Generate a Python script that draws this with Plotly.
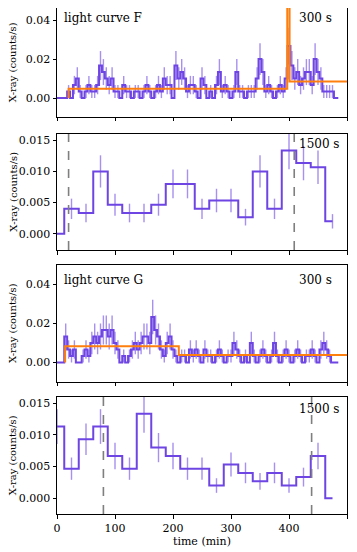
import numpy as np
import plotly.graph_objects as go
from plotly.subplots import make_subplots

# bin centres (min)
t_300 = np.arange(0, 490, 5)
t_1500 = np.arange(0, 500, 25)

# photon counts per bin
counts_F_300 = [0, 0, 0, 0, 1, 0, 2, 3, 1, 0, 1, 2, 1, 1, 2, 5, 4, 3, 2, 3,
                1, 1, 0, 2, 1, 1, 0, 1, 1, 0, 1, 2, 1, 0, 1, 2, 1, 3, 2, 2,
                0, 5, 3, 4, 3, 1, 2, 2, 1, 0, 3, 2, 0, 1, 0, 2, 4, 1, 2, 1,
                0, 1, 4, 1, 1, 0, 1, 1, 1, 3, 6, 4, 1, 2, 1, 0, 1, 2, 1, 3,
                8, 5, 3, 4, 2, 3, 4, 4, 2, 6, 4, 3, 1, 1, 1, 1, 0, 0]
counts_F_1500 = [0, 6, 5, 15, 7, 5, 5, 7, 12, 12, 6, 8, 8, 4, 15, 6, 20, 17, 16, 3]

counts_G_300 = [0, 0, 0, 4, 2, 1, 2, 0, 0, 1, 2, 1, 3, 4, 3, 4, 5, 5, 4, 5,
                3, 2, 0, 1, 0, 1, 2, 3, 2, 3, 4, 4, 3, 7, 5, 4, 2, 1, 3, 4,
                2, 1, 0, 1, 1, 0, 2, 1, 2, 1, 0, 2, 1, 1, 0, 1, 2, 1, 0, 1,
                1, 3, 2, 1, 0, 1, 0, 3, 1, 0, 1, 2, 1, 0, 1, 3, 1, 0, 1, 2,
                1, 0, 1, 2, 1, 0, 1, 1, 2, 1, 0, 2, 3, 2, 1, 0, 0, 0]
counts_G_1500 = [17, 7, 14, 17, 10, 7, 20, 12, 10, 7, 7, 3, 8, 6, 4, 6, 3, 5, 10, 0]

# Bayesian blocks (edges in min, rates in counts/s)
blocks_F_edges = [20, 397, 401, 500]
blocks_F_rates = [0.0048, 0.065, 0.0085]
blocks_G_edges = [14, 210, 500]
blocks_G_rates = [0.0083, 0.0038]

# dashed markers on the 1500 s curves
marks_F = [20, 409]
marks_G = [80, 439]

PURPLE = '#6e45e2'
PURPLE_ERR = 'rgba(120, 85, 230, 0.65)'
ORANGE = '#ff7f0e'
FONT = 'DejaVu Serif'

fig = make_subplots(rows=4, cols=1, shared_xaxes=True)


def add_curve(row, t, counts, bin_s):
    counts = np.array(counts, dtype=float)
    rate = counts / bin_s
    err = np.sqrt(counts) / bin_s
    fig.add_trace(go.Scatter(
        x=t, y=rate, mode='lines', line=dict(color=PURPLE, width=2, shape='hvh'),
        error_y=dict(type='data', array=err, color=PURPLE_ERR, thickness=1.4, width=0),
        showlegend=False
    ), row=row, col=1)


def add_blocks(row, edges, rates):
    xs = [edges[0]] + list(edges)
    ys = [0] + list(rates) + [rates[-1]]
    fig.add_trace(go.Scatter(
        x=xs, y=ys, mode='lines', line=dict(color=ORANGE, width=2, shape='hv'),
        showlegend=False
    ), row=row, col=1)


def add_marks(row, marks):
    for m in marks:
        fig.add_shape(type='line', x0=m, x1=m, y0=0, y1=1,
                      xref=f'x{row}' if row > 1 else 'x',
                      yref=f'y{row} domain' if row > 1 else 'y domain',
                      line=dict(color='#7f7f7f', width=1.6, dash='dash'))


add_curve(1, t_300, counts_F_300, 300)
add_blocks(1, blocks_F_edges, blocks_F_rates)
add_curve(2, t_1500, counts_F_1500, 1500)
add_marks(2, marks_F)
add_curve(3, t_300, counts_G_300, 300)
add_blocks(3, blocks_G_edges, blocks_G_rates)
add_curve(4, t_1500, counts_G_1500, 1500)
add_marks(4, marks_G)

# the page body adds an 8 px offset, so the figure is sized to the rest of the window
domains = [[0.7846, 1.0], [0.5217, 0.7510], [0.2609, 0.4921], [0.0, 0.2312]]
yranges = [[-0.0097, 0.0462], [-0.0026, 0.016], [-0.01, 0.05], [-0.0025, 0.016]]
yticks = [[0, 0.02, 0.04], [0, 0.005, 0.01, 0.015],
          [0, 0.02, 0.04], [0, 0.005, 0.01, 0.015]]
yfmt = ['.2f', '.3f', '.2f', '.3f']

axis_style = dict(showline=True, linecolor='black', linewidth=1, mirror=True,
                  ticks='outside', ticklen=3.5, tickwidth=0.8, tickcolor='black',
                  showgrid=False, zeroline=False, automargin=False,
                  tickfont=dict(family=FONT, size=11, color='black'))

for i in range(4):
    fig.update_yaxes(domain=domains[i], range=yranges[i], tickvals=yticks[i],
                     tickformat=yfmt[i], row=i + 1, col=1, **axis_style)
    fig.update_xaxes(range=[0, 500], tickvals=[0, 100, 200, 300, 400, 500],
                     row=i + 1, col=1, **axis_style)

fig.update_xaxes(title=dict(text='time (min)', font=dict(family=FONT, size=11),
                            standoff=2), row=4, col=1)

# panel labels
labels = [('light curve F', '300 s', 0.995), (None, '1500 s', 0.99),
          ('light curve G', '300 s', 0.95), (None, '1500 s', 0.975)]
for i, (left, right, ytop) in enumerate(labels):
    yref = 'y domain' if i == 0 else f'y{i + 1} domain'
    xref = 'x domain' if i == 0 else f'x{i + 1} domain'
    if left:
        fig.add_annotation(text=left, x=0.017, y=ytop, xref=xref, yref=yref,
                           xanchor='left', yanchor='top', showarrow=False,
                           font=dict(family=FONT, size=12, color='black'))
    fig.add_annotation(text=right, x=0.955 if '300' in right else 0.983, y=ytop,
                       xref=xref, yref=yref, xanchor='right', yanchor='top',
                       showarrow=False, font=dict(family=FONT, size=12, color='black'))
    fig.add_annotation(text='X-ray (counts/s)', textangle=-90, x=-0.153, y=0.5,
                       xref='paper', yref=yref, xanchor='center', yanchor='middle',
                       showarrow=False, font=dict(family=FONT, size=10, color='black'))

fig.update_layout(
    width=349, height=544,
    margin=dict(l=49, r=10, t=0, b=38),
    plot_bgcolor='white', paper_bgcolor='white',
    font=dict(family=FONT, size=11, color='black')
)

fig.write_html("out.html")
